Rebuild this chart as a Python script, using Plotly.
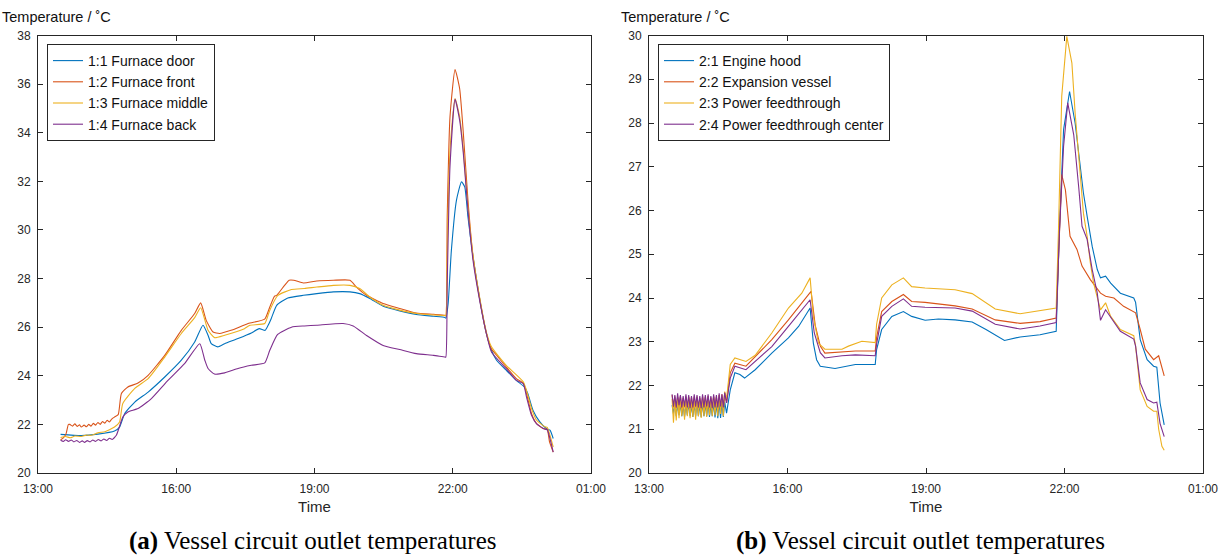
import plotly.graph_objects as go

# ---------------- tick labels ----------------
x_tickvals = [13, 16, 19, 22, 25]
x_ticktext = ["13:00", "16:00", "19:00", "22:00", "01:00"]
y1_ticks = [20, 22, 24, 26, 28, 30, 32, 34, 36, 38]
y2_ticks = [20, 21, 22, 23, 24, 25, 26, 27, 28, 29, 30]

# ---------------- (a) furnace circuit (hours of day) ----------------
a1_name = "1:1 Furnace door"
a1_t = [13.49, 13.94, 14.3, 14.66, 14.77, 14.88, 15.1, 15.39, 15.75, 16.11, 16.4, 16.58, 16.69, 16.76, 16.9,
        17.05, 17.34, 17.63, 17.8, 17.93, 18.0, 18.06, 18.18, 18.42, 18.76, 19.05, 19.41, 19.77, 19.98, 20.2,
        20.49, 20.85, 21.21, 21.58, 21.83, 21.85, 21.9, 21.97, 22.08, 22.19, 22.26, 22.33, 22.44, 22.59, 22.73,
        22.84, 22.95, 23.16, 23.38, 23.56, 23.63, 23.74, 23.89, 24.03, 24.11, 24.18]
a1_v = [21.59, 21.54, 21.6, 21.73, 21.89, 22.44, 22.92, 23.33, 23.95, 24.64, 25.39, 26.08, 25.67, 25.32, 25.19,
        25.32, 25.53, 25.76, 25.94, 25.87, 26.1, 26.35, 26.9, 27.2, 27.31, 27.38, 27.45, 27.45, 27.38, 27.18,
        26.86, 26.67, 26.52, 26.45, 26.4, 26.37, 26.97, 29.16, 31.22, 31.98, 31.77, 30.53, 28.89, 27.1, 25.74,
        25.05, 24.64, 24.23, 23.81, 23.53, 23.26, 22.58, 22.1, 21.83, 21.76, 21.42]

a2_name = "1:2 Furnace front"
a2_t = [13.49, 13.55, 13.61, 13.66, 13.69, 13.75, 13.8, 13.85, 13.9, 13.94, 14.0, 14.05, 14.1, 14.15, 14.2,
        14.25, 14.3, 14.35, 14.4, 14.45, 14.5, 14.55, 14.6, 14.66, 14.74, 14.81, 14.95, 15.17, 15.39, 15.75,
        16.11, 16.4, 16.53, 16.65, 16.8, 16.94, 17.19, 17.56, 17.92, 18.03, 18.13, 18.18, 18.35, 18.45, 18.55,
        18.76, 19.05, 19.41, 19.77, 19.91, 20.13, 20.49, 20.85, 21.21, 21.58, 21.83, 21.85, 21.88, 21.94, 22.05,
        22.15, 22.23, 22.33, 22.44, 22.59, 22.73, 22.84, 22.95, 23.16, 23.38, 23.53, 23.6, 23.71, 23.82, 23.96,
        24.05, 24.1, 24.18]
a2_v = [21.37, 21.45, 21.62, 22.0, 22.0, 21.93, 22.02, 21.92, 21.98, 21.89, 21.97, 21.9, 22.0, 21.93, 22.04,
        21.97, 22.08, 22.0, 22.12, 22.05, 22.17, 22.1, 22.22, 22.3, 22.4, 23.27, 23.54, 23.7, 24.02, 24.84,
        25.87, 26.56, 27.0, 26.28, 25.8, 25.74, 25.87, 26.15, 26.33, 26.83, 27.27, 27.31, 27.72, 27.93, 27.93,
        27.82, 27.9, 27.93, 27.93, 27.65, 27.31, 26.97, 26.77, 26.58, 26.53, 26.49, 26.46, 30.53, 34.65, 36.6,
        35.81, 33.97, 31.22, 28.89, 27.1, 25.74, 25.1, 24.85, 24.36, 23.88, 23.7, 23.27, 22.44, 22.03, 21.83,
        21.8, 21.28, 20.86]

a3_name = "1:3 Furnace middle"
a3_t = [13.49, 13.6, 13.7, 13.8, 13.94, 14.05, 14.15, 14.3, 14.45, 14.55, 14.66, 14.77, 14.84, 15.1, 15.39,
        15.75, 16.11, 16.4, 16.53, 16.69, 16.83, 17.05, 17.48, 17.6, 17.92, 18.03, 18.2, 18.5, 18.78, 19.05,
        19.41, 19.77, 19.98, 20.2, 20.49, 20.85, 21.21, 21.58, 21.83, 21.85, 21.88, 21.94, 22.05, 22.15, 22.23,
        22.33, 22.44, 22.59, 22.73, 22.84, 23.16, 23.53, 23.6, 23.71, 23.82, 24.0, 24.05, 24.18]
a3_v = [21.46, 21.5, 21.45, 21.52, 21.5, 21.56, 21.55, 21.65, 21.7, 21.78, 21.89, 22.1, 22.86, 23.48, 23.88,
        24.77, 25.74, 26.39, 26.8, 25.87, 25.57, 25.67, 25.94, 26.08, 26.15, 26.7, 27.3, 27.55, 27.59, 27.65,
        27.72, 27.72, 27.59, 27.24, 26.9, 26.7, 26.56, 26.5, 26.48, 26.47, 29.16, 33.28, 35.41, 34.65, 33.28,
        30.95, 28.95, 27.15, 25.8, 25.19, 24.43, 23.75, 23.4, 22.65, 22.17, 21.9, 21.88, 21.07]

a4_name = "1:4 Furnace back"
a4_t = [13.49, 13.55, 13.6, 13.66, 13.72, 13.78, 13.84, 13.9, 13.96, 14.01, 14.07, 14.13, 14.19, 14.25, 14.31,
        14.37, 14.43, 14.49, 14.55, 14.61, 14.7, 14.84, 14.95, 15.17, 15.46, 15.82, 16.18, 16.51, 16.62, 16.69,
        16.83, 17.05, 17.34, 17.63, 17.92, 18.03, 18.2, 18.5, 18.78, 19.05, 19.62, 19.84, 20.13, 20.49, 20.85,
        21.21, 21.58, 21.83, 21.85, 21.88, 21.94, 22.05, 22.15, 22.23, 22.33, 22.44, 22.59, 22.73, 22.84, 23.16,
        23.38, 23.53, 23.6, 23.71, 23.82, 24.0, 24.05, 24.18]
a4_v = [21.35, 21.3, 21.37, 21.3, 21.36, 21.28, 21.34, 21.26, 21.32, 21.26, 21.33, 21.28, 21.36, 21.3, 21.38,
        21.32, 21.4, 21.34, 21.43, 21.38, 21.55, 22.3, 22.51, 22.65, 23.06, 23.81, 24.5, 25.32, 24.64, 24.3,
        24.07, 24.12, 24.3, 24.43, 24.53, 25.05, 25.7, 26.0, 26.05, 26.08, 26.15, 26.05, 25.66, 25.25, 25.08,
        24.91, 24.84, 24.77, 24.77, 27.79, 32.6, 35.37, 34.51, 33.14, 30.81, 28.75, 27.04, 25.74, 24.98, 24.29,
        23.81, 23.68, 23.13, 22.37, 22.02, 21.8, 21.78, 20.86]

# ---------------- (b) second circuit ----------------
b_noise_t = [13.50, 13.53, 13.56, 13.59, 13.62, 13.65, 13.68, 13.71, 13.74, 13.77, 13.80, 13.83, 13.86,
             13.89, 13.92, 13.95, 13.98, 14.01, 14.04, 14.07, 14.10, 14.13, 14.16, 14.19, 14.22, 14.25,
             14.28, 14.31, 14.34, 14.37, 14.40, 14.43, 14.46, 14.49, 14.52, 14.55, 14.58, 14.61, 14.64]

b1_name = "2:1 Engine hood"
b1_noise = [21.55, 21.35, 21.6, 21.3, 21.58, 21.32, 21.6, 21.3, 21.55, 21.28, 21.58, 21.32, 21.6,
            21.3, 21.55, 21.28, 21.58, 21.3, 21.6, 21.3, 21.55, 21.28, 21.6, 21.3, 21.58, 21.3,
            21.6, 21.28, 21.55, 21.3, 21.6, 21.27, 21.58, 21.25, 21.6, 21.26, 21.6, 21.28, 21.62]
b1_t = [14.68, 14.76, 14.86, 14.97, 15.07, 15.3, 15.66, 16.02, 16.24, 16.49, 16.56, 16.63, 16.71, 17.03,
        17.47, 17.9, 17.93, 18.04, 18.26, 18.51, 18.69, 18.98, 19.27, 19.63, 20.0, 20.3, 20.7, 21.04, 21.47,
        21.82, 21.89, 21.98, 22.11, 22.23, 22.34, 22.41, 22.49, 22.6, 22.71, 22.78, 22.89, 23.0, 23.21, 23.5,
        23.54, 23.64, 23.79, 23.93, 24.0, 24.07, 24.16]
b1_v = [21.37, 21.9, 22.29, 22.25, 22.17, 22.36, 22.74, 23.09, 23.35, 23.77, 22.97, 22.59, 22.44, 22.39,
        22.48, 22.48, 22.82, 23.28, 23.58, 23.69, 23.58, 23.49, 23.52, 23.5, 23.45, 23.28, 23.03, 23.11, 23.16,
        23.24, 25.56, 27.85, 28.72, 28.0, 26.93, 26.4, 25.87, 25.18, 24.65, 24.46, 24.5, 24.34, 24.11, 24.0,
        23.9, 23.05, 22.59, 22.44, 22.42, 21.6, 21.1]

b2_name = "2:2 Expansion vessel"
b2_noise = [21.78, 21.5, 21.75, 21.48, 21.74, 21.5, 21.76, 21.47, 21.72, 21.5, 21.75, 21.48, 21.74,
            21.5, 21.73, 21.46, 21.75, 21.5, 21.74, 21.48, 21.72, 21.47, 21.75, 21.5, 21.74, 21.46,
            21.76, 21.48, 21.73, 21.5, 21.75, 21.47, 21.74, 21.46, 21.78, 21.48, 21.8, 21.5, 21.82]
b2_t = [14.68, 14.76, 14.86, 15.1, 15.66, 16.02, 16.31, 16.51, 16.6, 16.71, 16.81, 17.18, 17.47, 17.9,
        17.93, 18.04, 18.26, 18.51, 18.69, 18.98, 19.63, 20.0, 20.5, 21.04, 21.47, 21.82, 21.87, 21.94,
        22.02, 22.12, 22.27, 22.38, 22.56, 22.78, 22.89, 23.07, 23.28, 23.54, 23.64, 23.75, 23.93, 24.04, 24.16]
b2_v = [21.6, 22.29, 22.51, 22.44, 23.05, 23.5, 23.89, 24.15, 23.38, 22.9, 22.74, 22.76, 22.79, 22.79,
        23.1, 23.69, 23.92, 24.08, 23.92, 23.9, 23.82, 23.75, 23.5, 23.42, 23.46, 23.54, 24.8, 26.82,
        26.47, 25.41, 25.11, 24.73, 24.42, 24.11, 24.04, 24.0, 23.81, 23.66, 23.28, 22.83, 22.59, 22.68, 22.22]

b3_name = "2:3 Power feedthrough"
b3_noise = [21.7, 21.15, 21.68, 21.2, 21.72, 21.25, 21.7, 21.3, 21.66, 21.22, 21.7, 21.3, 21.72,
            21.25, 21.68, 21.28, 21.7, 21.22, 21.74, 21.3, 21.68, 21.26, 21.72, 21.3, 21.7, 21.28,
            21.74, 21.32, 21.7, 21.3, 21.75, 21.32, 21.72, 21.3, 21.78, 21.35, 21.76, 21.3, 21.86]
b3_t = [14.68, 14.76, 14.86, 15.1, 15.3, 15.66, 16.02, 16.31, 16.49, 16.56, 16.67, 16.81, 17.18, 17.32,
        17.61, 17.9, 17.93, 18.04, 18.26, 18.51, 18.69, 18.98, 19.63, 20.0, 20.5, 21.04, 21.47, 21.82, 21.87,
        21.94, 22.05, 22.16, 22.23, 22.34, 22.41, 22.49, 22.56, 22.63, 22.71, 22.78, 22.89, 23.0, 23.21, 23.5,
        23.54, 23.64, 23.79, 23.93, 24.0, 24.04, 24.11, 24.16]
b3_v = [21.7, 22.48, 22.63, 22.55, 22.69, 23.2, 23.77, 24.11, 24.46, 23.58, 22.97, 22.83, 22.83, 22.9,
        23.01, 22.98, 23.4, 24.0, 24.3, 24.46, 24.26, 24.23, 24.19, 24.1, 23.75, 23.64, 23.72, 23.77, 25.56,
        28.61, 29.98, 29.37, 28.23, 26.7, 25.94, 25.41, 24.8, 24.34, 24.04, 23.73, 23.89, 23.58, 23.28, 23.14,
        22.9, 21.9, 21.52, 21.41, 21.41, 21.0, 20.61, 20.52]

b4_name = "2:4 Power feedthrough center"
b4_noise = [21.8, 21.52, 21.78, 21.5, 21.82, 21.55, 21.78, 21.5, 21.76, 21.52, 21.8, 21.5, 21.78,
            21.48, 21.76, 21.5, 21.8, 21.52, 21.78, 21.5, 21.76, 21.48, 21.8, 21.5, 21.78, 21.52,
            21.8, 21.5, 21.76, 21.48, 21.8, 21.5, 21.78, 21.5, 21.82, 21.52, 21.8, 21.5, 21.84]
b4_t = [14.68, 14.76, 14.86, 15.1, 15.66, 16.02, 16.31, 16.49, 16.58, 16.71, 16.81, 17.18, 17.47, 17.9,
        17.93, 18.04, 18.26, 18.51, 18.69, 18.98, 19.63, 20.0, 20.5, 21.04, 21.47, 21.82, 21.89, 21.98,
        22.07, 22.2, 22.31, 22.38, 22.49, 22.6, 22.71, 22.78, 22.89, 23.0, 23.21, 23.5, 23.54, 23.64, 23.79,
        23.93, 24.0, 24.07, 24.16]
b4_v = [21.6, 22.17, 22.44, 22.36, 22.89, 23.35, 23.73, 23.96, 23.2, 22.75, 22.63, 22.68, 22.7, 22.68,
        22.95, 23.58, 23.81, 23.98, 23.81, 23.79, 23.77, 23.7, 23.4, 23.29, 23.36, 23.44, 25.5, 27.47,
        28.46, 27.73, 26.51, 25.64, 25.34, 24.65, 24.11, 23.49, 23.73, 23.56, 23.24, 23.06, 22.9, 22.06, 21.68,
        21.6, 21.62, 21.13, 20.83]

colors = ["#0072BD", "#D95319", "#EDB120", "#7E2F8E"]
AX = "#262626"
FONT = "Liberation Sans, Arial, sans-serif"

fig = go.Figure()

left = [(a1_name, a1_t, a1_v), (a2_name, a2_t, a2_v), (a3_name, a3_t, a3_v), (a4_name, a4_t, a4_v)]
for (name, t, v), c in zip(left, colors):
    fig.add_trace(go.Scatter(x=t, y=v, mode="lines", name=name,
                             line=dict(color=c, width=1.1, shape="spline", smoothing=0.5),
                             xaxis="x", yaxis="y", legend="legend"))

right = [(b1_name, b1_noise, b1_t, b1_v), (b2_name, b2_noise, b2_t, b2_v),
         (b3_name, b3_noise, b3_t, b3_v), (b4_name, b4_noise, b4_t, b4_v)]
for (name, nz, t, v), c in zip(right, colors):
    fig.add_trace(go.Scatter(x=b_noise_t + t, y=nz + v, mode="lines", name=name,
                             line=dict(color=c, width=1.1),
                             xaxis="x2", yaxis="y2", legend="legend2"))

W, H = 1223, 559
def px(xp):
    return xp / W
def py(yp):
    return 1 - yp / H

common_x = dict(range=[13, 25], tickvals=x_tickvals, ticktext=x_ticktext, showline=True, linecolor=AX,
                linewidth=1, mirror="ticks", ticks="inside", ticklen=5, tickcolor=AX, showgrid=False,
                zeroline=False, tickfont=dict(family=FONT, size=12, color=AX), ticklabelstandoff=5,
                title=dict(text="Time", font=dict(family=FONT, size=15, color=AX), standoff=6))
common_y = dict(showline=True, linecolor=AX, linewidth=1, mirror="ticks", ticks="inside", ticklen=5,
                tickcolor=AX, showgrid=False, zeroline=False, ticklabelstandoff=4,
                tickfont=dict(family=FONT, size=12, color=AX))

leg = dict(bgcolor="white", bordercolor=AX, borderwidth=1, font=dict(family=FONT, size=14, color="#111111"),
           xanchor="left", yanchor="top", tracegroupgap=0, itemclick=False)

fig.update_layout(
    width=W, height=H,
    margin=dict(l=0, r=0, t=0, b=0, autoexpand=False),
    paper_bgcolor="white", plot_bgcolor="white",
    xaxis=dict(common_x, domain=[px(38), px(591)], anchor="y"),
    yaxis=dict(common_y, domain=[py(473), py(35.5)], range=[20, 38], tickvals=y1_ticks, anchor="x"),
    xaxis2=dict(common_x, domain=[px(649), px(1203)], anchor="y2"),
    yaxis2=dict(common_y, domain=[py(473), py(35.5)], range=[20, 30], tickvals=y2_ticks, anchor="x2"),
    legend=dict(leg, x=px(47), y=py(44)),
    legend2=dict(leg, x=px(658), y=py(44)),
    showlegend=True,
    annotations=[
        dict(text="Temperature / ˚C", x=px(0), y=py(17), xref="paper", yref="paper", xanchor="left",
             yanchor="middle", showarrow=False, font=dict(family=FONT, size=14.5, color="#111111")),
        dict(text="Temperature / ˚C", x=px(619), y=py(17), xref="paper", yref="paper", xanchor="left",
             yanchor="middle", showarrow=False, font=dict(family=FONT, size=14.5, color="#111111")),
        dict(text="<b>(a)</b> Vessel circuit outlet temperatures", x=px(312), y=py(541), xref="paper",
             yref="paper", xanchor="center", yanchor="middle", showarrow=False,
             font=dict(family="Liberation Serif, serif", size=25, color="black")),
        dict(text="<b>(b)</b> Vessel circuit outlet temperatures", x=px(920), y=py(541), xref="paper",
             yref="paper", xanchor="center", yanchor="middle", showarrow=False,
             font=dict(family="Liberation Serif, serif", size=25, color="black")),
    ],
)

fig.write_html("out.html")
